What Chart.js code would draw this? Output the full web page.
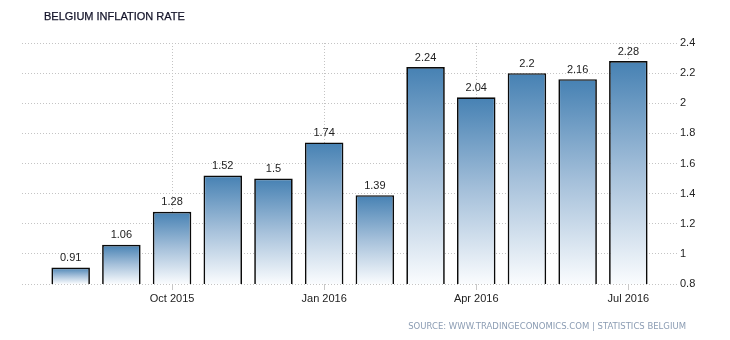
<!DOCTYPE html>
<html>
<head>
<meta charset="utf-8">
<script src="https://cdn.jsdelivr.net/npm/chart.js@4/dist/chart.umd.min.js"></script>
<style>
  body { margin: 0; background: #fff; }
  #wrap { position: relative; width: 730px; height: 340px; }
  #title { position: absolute; left: 44px; top: 10px; font: 11px 'Liberation Sans', sans-serif; color: #14142a; -webkit-text-stroke: 0.25px #14142a; }
  #source { position: absolute; right: 44px; top: 321px; font: 8.5px 'DejaVu Sans', sans-serif; color: #8b9cb3; }
</style>
</head>
<body>
<div id="wrap">
  <canvas id="graphCanvas" width="730" height="340"></canvas>
  <div id="title">BELGIUM INFLATION RATE</div>
  <div id="source">SOURCE: WWW.TRADINGECONOMICS.COM | STATISTICS BELGIUM</div>
</div>
<script>
// Monthly inflation, Aug 2015 - Jul 2016
var months = ['Aug 2015', 'Sep 2015', 'Oct 2015', 'Nov 2015', 'Dec 2015', 'Jan 2016',
  'Feb 2016', 'Mar 2016', 'Apr 2016', 'May 2016', 'Jun 2016', 'Jul 2016'];
var values = [0.91, 1.06, 1.28, 1.52, 1.5, 1.74, 1.39, 2.24, 2.04, 2.2, 2.16, 2.28];
var tickIndexes = [2, 5, 8, 11];
var tickLabels = ['Oct 2015', 'Jan 2016', 'Apr 2016', 'Jul 2016'];

var font = {family: "'Liberation Sans', sans-serif", size: 11};

// each bar fades from steel blue at its top to near white at its base
function barGradient(ctx) {
  var chart = ctx.chart;
  var yScale = chart.scales.y;
  if (!yScale || !ctx.raw) return '#4682b4';
  var top = yScale.getPixelForValue(ctx.raw.y);
  var base = yScale.getPixelForValue(yScale.min);
  if (!isFinite(top) || !isFinite(base) || base <= top) return '#4682b4';
  var g = chart.ctx.createLinearGradient(0, top, 0, base);
  g.addColorStop(0, '#4681b3');
  g.addColorStop(0.5, '#a5c0da');
  g.addColorStop(1, '#fafcfe');
  return g;
}

var valueLabels = {
  id: 'valueLabels',
  afterDatasetsDraw: function(chart) {
    var ctx = chart.ctx;
    var meta = chart.getDatasetMeta(0);
    ctx.save();
    ctx.font = '11px ' + font.family;
    ctx.fillStyle = '#222';
    ctx.textAlign = 'center';
    ctx.textBaseline = 'bottom';
    meta.data.forEach(function(bar, i) {
      ctx.fillText(String(values[i]), bar.x, bar.y - 4);
    });
    ctx.restore();
  }
};

var graph = new Chart(document.getElementById('graphCanvas'), {
  type: 'bar',
  data: {
    datasets: [{
      label: 'Inflation rate',
      data: values.map(function(v, i) { return {x: i, y: v}; }),
      backgroundColor: barGradient,
      borderColor: '#0a0a0a',
      borderWidth: 1.7,
      borderSkipped: false,
      barPercentage: 0.76,
      categoryPercentage: 1,
    }]
  },
  options: {
    responsive: false,
    animation: false,
    layout: {padding: {left: 22, top: 43, right: 0, bottom: 0}},
    plugins: {
      legend: {display: false},
      title: {display: false},
      tooltip: {enabled: false},
    },
    scales: {
      x: {
        type: 'linear',
        min: -0.96,
        max: 11.96,
        offset: false,
        afterBuildTicks: function(scale) {
          scale.ticks = tickIndexes.map(function(v) { return {value: v}; });
        },
        afterFit: function(scale) { scale.height = 56; },
        ticks: {
          autoSkip: false,
          maxRotation: 0,
          padding: 2,
          color: '#222',
          font: font,
          callback: function(v) {
            var k = tickIndexes.indexOf(v);
            return k >= 0 ? tickLabels[k] : '';
          }
        },
        grid: {
          offset: false,
          color: '#c4c4c4',
          tickColor: '#c8c8c8',
          tickLength: 6,
          tickBorderDash: [],
        },
        border: {display: false, dash: [1, 2]},
      },
      y: {
        position: 'right',
        min: 0.8,
        max: 2.4,
        afterFit: function(scale) { scale.width = 53; },
        ticks: {
          stepSize: 0.2,
          padding: 3,
          color: '#222',
          font: font,
          callback: function(v) { return String(+v.toFixed(1)); }
        },
        grid: {color: '#c4c4c4', drawTicks: false},
        border: {display: false, dash: [1, 2]},
      }
    }
  },
  plugins: [valueLabels]
});
</script>
</body>
</html>
